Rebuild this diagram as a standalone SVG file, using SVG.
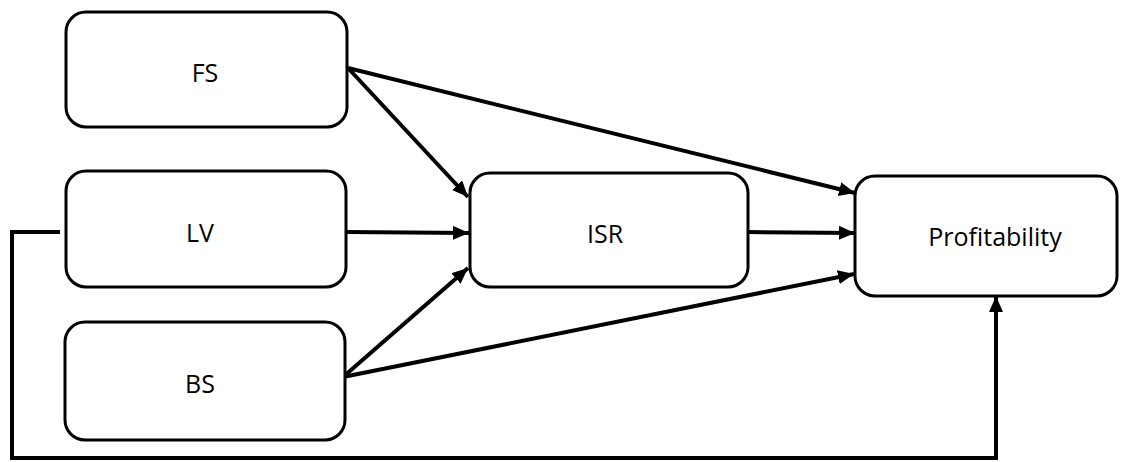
<svg xmlns="http://www.w3.org/2000/svg" width="1137" height="462" viewBox="0 0 1137 462">
<style>
.box{fill:#fff;stroke:#000;stroke-width:3}
.lbl{font-family:"Open Sans","Liberation Sans",sans-serif;font-size:25px;fill:#000;text-anchor:middle}
.c{fill:none;stroke:#000;stroke-width:4}
</style>
<defs>
<marker id="ah" markerUnits="userSpaceOnUse" markerWidth="18" markerHeight="16" refX="16" refY="7" orient="auto">
<path d="M0,0 L16,7 L0,14 z" fill="#000"/>
</marker>
</defs>
<g id="connectors">
<line class="c" x1="348" y1="68" x2="468" y2="197" marker-end="url(#ah)"/>
<line class="c" x1="348" y1="68" x2="855" y2="193" marker-end="url(#ah)"/>
<line class="c" x1="347" y1="232" x2="469" y2="233" marker-end="url(#ah)"/>
<line class="c" x1="748" y1="232" x2="855" y2="233" marker-end="url(#ah)"/>
<line class="c" x1="343" y1="377" x2="468" y2="268" marker-end="url(#ah)"/>
<line class="c" x1="343" y1="377" x2="854" y2="274" marker-end="url(#ah)"/>
<polyline class="c" points="60,232 12,232 12,458 996,458 996,296" marker-end="url(#ah)"/>
</g>
<g id="FS"><rect class="box" x="66" y="12" width="281" height="115" rx="20"/><text class="lbl" x="205" y="82">FS</text></g>
<g id="LV"><rect class="box" x="66" y="171" width="280" height="116" rx="20"/><text class="lbl" x="200" y="242">LV</text></g>
<g id="BS"><rect class="box" x="65" y="322" width="280" height="118" rx="20"/><text class="lbl" x="200" y="393">BS</text></g>
<g id="ISR"><rect class="box" x="470" y="173" width="278" height="114" rx="20"/><text class="lbl" x="605" y="243">ISR</text></g>
<g id="Profitability"><rect class="box" x="855" y="176" width="262" height="120" rx="20"/><text class="lbl" x="995" y="246">Profitability</text></g>
</svg>
